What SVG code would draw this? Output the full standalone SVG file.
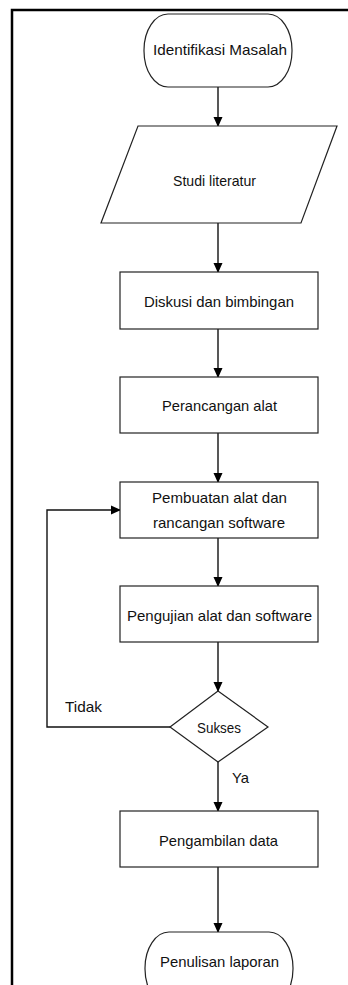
<svg xmlns="http://www.w3.org/2000/svg" width="348" height="985" viewBox="0 0 348 985">
<style>
.n{fill:#fff;stroke:#222;stroke-width:1.2}
.t{font-family:"Liberation Sans",Arial,sans-serif;font-size:15px;fill:#111;text-anchor:middle}
.c{fill:none;stroke:#111;stroke-width:1.4}
</style>
<defs>
<marker id="ah" markerWidth="10" markerHeight="10" refX="9" refY="5" orient="auto" markerUnits="userSpaceOnUse">
<path d="M0,0.5 L10,5 L0,9.5 Z" fill="#000"/>
</marker>
</defs>
<rect width="348" height="985" fill="#fff"/>
<path d="M12,990 V10 H352" fill="none" stroke="#000" stroke-width="2.5"/>
<g id="connectors">
<line class="c" x1="218" y1="87" x2="218" y2="126" marker-end="url(#ah)"/>
<line class="c" x1="218" y1="223" x2="218" y2="272" marker-end="url(#ah)"/>
<line class="c" x1="218" y1="329" x2="218" y2="377" marker-end="url(#ah)"/>
<line class="c" x1="218" y1="433" x2="218" y2="482" marker-end="url(#ah)"/>
<line class="c" x1="218" y1="538" x2="218" y2="586" marker-end="url(#ah)"/>
<line class="c" x1="218" y1="642" x2="218" y2="691" marker-end="url(#ah)"/>
<line class="c" x1="218" y1="762" x2="218" y2="811" marker-end="url(#ah)"/>
<line class="c" x1="218" y1="867" x2="218" y2="932" marker-end="url(#ah)"/>
<path class="c" d="M170,727 H47 V510 H120" marker-end="url(#ah)"/>
<text class="t" x="83.5" y="712" textLength="37" lengthAdjust="spacingAndGlyphs">Tidak</text>
<text class="t" x="240.5" y="783" textLength="17" lengthAdjust="spacingAndGlyphs">Ya</text>
</g>
<g id="identifikasi">
<rect class="n" x="144" y="14" width="148" height="73" rx="24" ry="36"/>
<text class="t" x="220" y="55" textLength="134" lengthAdjust="spacingAndGlyphs">Identifikasi Masalah</text>
</g>
<g id="studi">
<path class="n" d="M138,126 H337 L301,223 H101 Z"/>
<text class="t" x="214.5" y="186" textLength="83" lengthAdjust="spacingAndGlyphs">Studi literatur</text>
</g>
<g id="diskusi">
<rect class="n" x="120" y="272" width="198" height="57"/>
<text class="t" x="219" y="307" textLength="150" lengthAdjust="spacingAndGlyphs">Diskusi dan bimbingan</text>
</g>
<g id="perancangan">
<rect class="n" x="120" y="377" width="198" height="56"/>
<text class="t" x="219.5" y="411" textLength="115" lengthAdjust="spacingAndGlyphs">Perancangan alat</text>
</g>
<g id="pembuatan">
<rect class="n" x="120" y="482" width="198" height="56"/>
<text class="t" x="219.5" y="503" textLength="135" lengthAdjust="spacingAndGlyphs">Pembuatan alat dan</text>
<text class="t" x="219" y="528" textLength="132" lengthAdjust="spacingAndGlyphs">rancangan software</text>
</g>
<g id="pengujian">
<rect class="n" x="120" y="586" width="198" height="56"/>
<text class="t" x="219.5" y="621" textLength="185" lengthAdjust="spacingAndGlyphs">Pengujian alat dan software</text>
</g>
<g id="sukses">
<path class="n" d="M218,691 L268,727 L218,762 L170,727 Z"/>
<text class="t" x="219" y="733" textLength="44" lengthAdjust="spacingAndGlyphs">Sukses</text>
</g>
<g id="pengambilan">
<rect class="n" x="120" y="811" width="198" height="56"/>
<text class="t" x="218.5" y="846" textLength="119" lengthAdjust="spacingAndGlyphs">Pengambilan data</text>
</g>
<g id="penulisan">
<rect class="n" x="145" y="932" width="148" height="73" rx="24" ry="36"/>
<text class="t" x="219.5" y="967" textLength="119" lengthAdjust="spacingAndGlyphs">Penulisan laporan</text>
</g>
</svg>
